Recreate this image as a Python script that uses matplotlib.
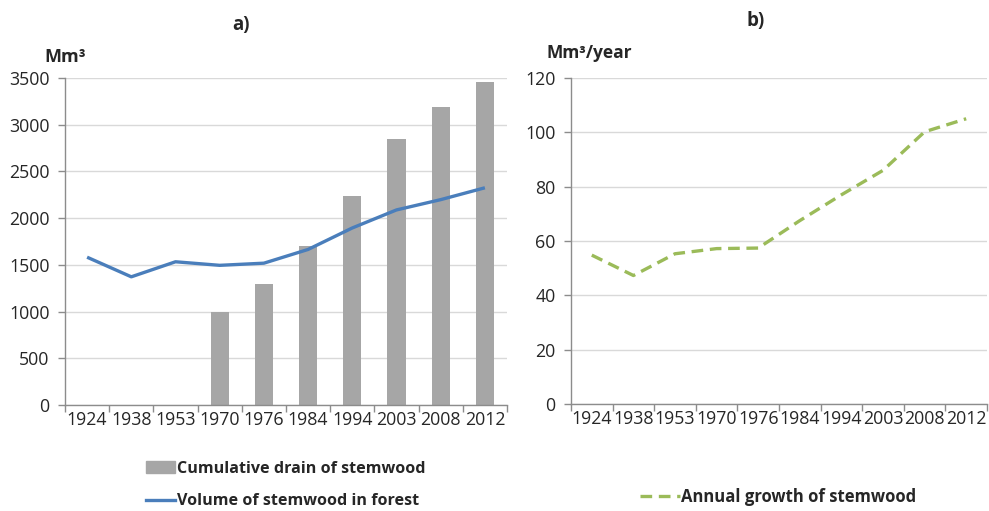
import numpy as np
import matplotlib
matplotlib.use("Agg")
import matplotlib.pyplot as plt
from matplotlib.lines import Line2D
from matplotlib.patches import Patch

# values
years = ["1924", "1938", "1953", "1970", "1976", "1984", "1994", "2003", "2008", "2012"]
drain = [np.nan, np.nan, np.nan, 1000, 1300, 1700, 2240, 2850, 3190, 3460]
volume = [1582, 1372, 1533, 1495, 1518, 1665, 1895, 2088, 2198, 2325]
growth = [54.8, 47.3, 55.3, 57.2, 57.4, 67.5, 77.0, 86.0, 100.2, 105.0]

plt.rcParams["font.family"] = ["Open Sans", "DejaVu Sans"]
txt = "#262626"
grid_c = "#d9d9d9"
axis_c = "#8c8c8c"

fig = plt.figure(figsize=(9.89, 5.11), dpi=100)
W, H = 989, 511


def fx(px):
    return px / W


def fy(py):
    return 1 - py / H


def style(ax, ymax, step):
    x = np.arange(len(years))
    ax.set_xlim(-0.5, len(years) - 0.5)
    ax.set_ylim(0, ymax)
    ax.set_yticks(np.arange(0, ymax + step / 2, step))
    ax.set_xticks(x)
    ax.set_xticklabels(years)
    ax.set_xticks(np.arange(-0.5, len(years), 1.0), minor=True)
    ax.tick_params(axis="x", which="major", length=0, pad=4, labelsize=12.8, colors=txt)
    ax.tick_params(axis="x", which="minor", length=5, width=1, color=axis_c)
    ax.tick_params(axis="y", length=5, width=1, color=axis_c, pad=6, labelsize=12.8, labelcolor=txt)
    ax.grid(axis="y", color=grid_c, lw=1)
    ax.set_axisbelow(True)
    for s in ["top", "right"]:
        ax.spines[s].set_visible(False)
    for s in ["left", "bottom"]:
        ax.spines[s].set_color(axis_c)
        ax.spines[s].set_linewidth(1)


# panel a
ax1 = fig.add_axes([fx(65), fy(405), fx(507 - 65), (405 - 78) / H])
x = np.arange(len(years))
ax1.bar(x, drain, width=0.41, color="#a6a6a6", zorder=2)
ax1.plot(x, volume, color="#4a7ebb", lw=2.4, zorder=3, solid_capstyle="butt")
style(ax1, 3500, 500)

# panel b
ax2 = fig.add_axes([fx(571), fy(404), fx(987 - 571), (404 - 78) / H])
ax2.plot(x, growth, color="#9bbb59", lw=2.4, ls=(0, (3.5, 2)), zorder=3)
style(ax2, 120, 20)

fig.text(fx(241), fy(25), "a)", ha="center", va="center", fontsize=13.5, fontweight="bold", color=txt)
fig.text(fx(756), fy(21), "b)", ha="center", va="center", fontsize=13.5, fontweight="bold", color=txt)
fig.text(fx(44), fy(57), "Mm³", ha="left", va="center", fontsize=13, fontweight="bold", color=txt)
fig.text(fx(546), fy(53), "Mm³/year", ha="left", va="center", fontsize=12.5, fontweight="bold", color=txt)

h1 = [Patch(color="#a6a6a6"), Line2D([], [], color="#4a7ebb", lw=2.4)]
fig.legend(h1, ["Cumulative drain of stemwood", "Volume of stemwood in forest"],
           loc="center", bbox_to_anchor=(fx(286), fy(485)), frameon=False,
           prop={"weight": "bold", "size": 11.6}, labelcolor=txt,
           handlelength=1.8, handletextpad=0.15, labelspacing=1.05, borderpad=0)

h2 = [Line2D([], [], color="#9bbb59", lw=2.4, ls=(0, (3.5, 2)))]
fig.legend(h2, ["Annual growth of stemwood"],
           loc="center", bbox_to_anchor=(fx(778), fy(497)), frameon=False,
           prop={"weight": "bold", "size": 12}, labelcolor=txt,
           handlelength=2.4, handletextpad=0.1, borderpad=0)

fig.savefig("out.png", dpi=100)
